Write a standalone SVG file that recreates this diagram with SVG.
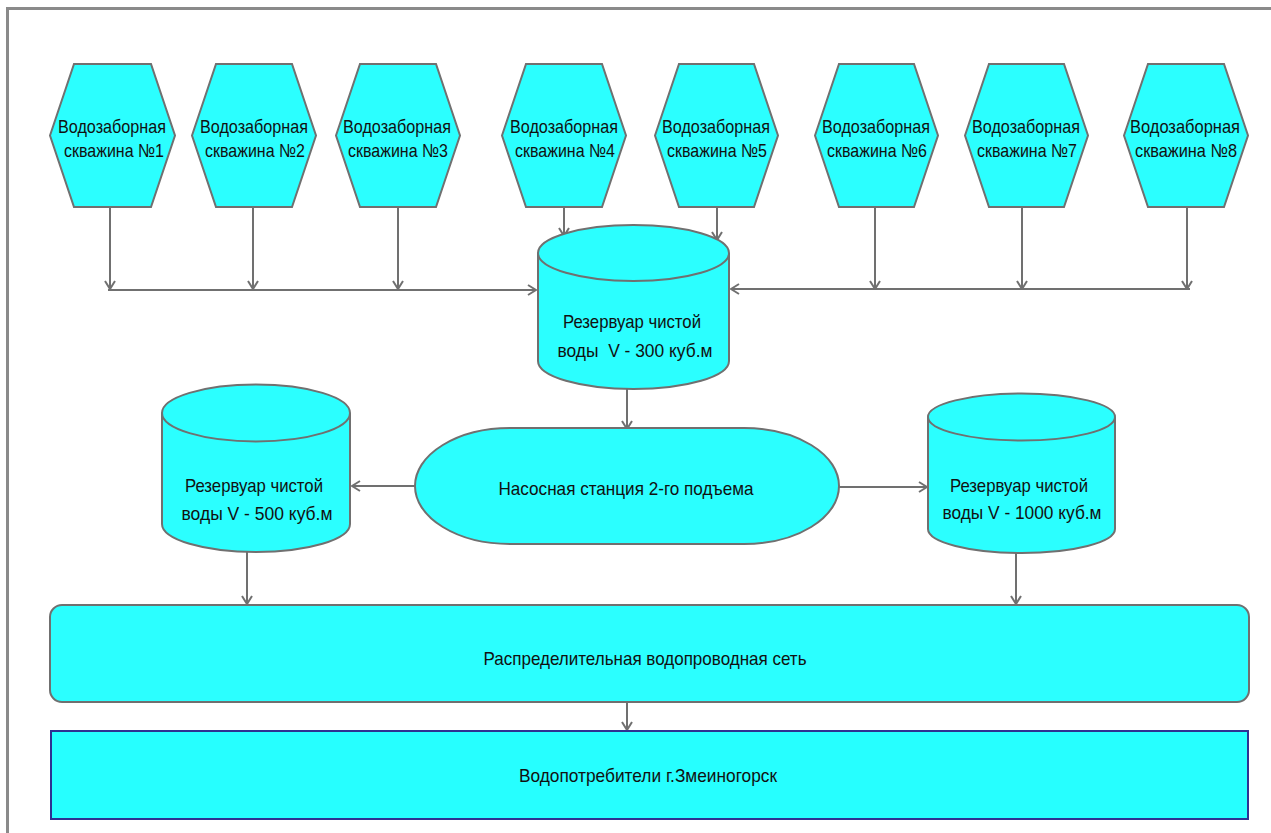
<svg xmlns="http://www.w3.org/2000/svg" width="1271" height="833" viewBox="0 0 1271 833">
<style>
.n{fill:#2bffff;stroke:#707070;stroke-width:2}
.b{fill:#26ffff;stroke:#2e3192;stroke-width:2}
.t{font-family:"Liberation Sans Narrow","Liberation Sans",Arial,sans-serif;font-size:19px;fill:#111;text-anchor:middle}
.c{fill:none;stroke:#707070;stroke-width:2}
.a{marker-end:url(#ar)}
</style>
<defs>
<marker id="ar" viewBox="0 0 10 12" markerWidth="10" markerHeight="12" refX="9" refY="6" orient="auto" markerUnits="userSpaceOnUse">
<path d="M1,1 L9,6 L1,11" fill="none" stroke="#707070" stroke-width="2"/>
</marker>
</defs>
<rect width="1271" height="833" fill="#fff"/>
<g id="frame">
<path d="M7.5,840 L7.5,8.5 L1280,8.5" fill="none" stroke="#8a8a8a" stroke-width="3"/>
</g>
<g id="connectors">
<path class="c a" d="M110,207 V289"/>
<path class="c a" d="M253,207 V289"/>
<path class="c a" d="M398,207 V289"/>
<path class="c a" d="M108,290 H536"/>
<path class="c a" d="M564,207 V236"/>
<path class="c a" d="M717,207 V240"/>
<path class="c a" d="M875,207 V289"/>
<path class="c a" d="M1022,207 V289"/>
<path class="c a" d="M1187,207 V289"/>
<path class="c a" d="M1190,289 H731"/>
<path class="c a" d="M627,389 V429"/>
<path class="c a" d="M415,486 H352"/>
<path class="c a" d="M839,487 H927"/>
<path class="c a" d="M247,552 V604"/>
<path class="c a" d="M1016,553 V604"/>
<path class="c a" d="M627,702 V730"/>
</g>
<g id="well1"><polygon class="n" points="50,135.5 74,64 151,64 175,135.5 151,207 74,207"/><text class="t" x="112" y="133" textLength="108" lengthAdjust="spacingAndGlyphs">Водозаборная</text><text class="t" x="114" y="157" textLength="100" lengthAdjust="spacingAndGlyphs">скважина №1</text></g>
<g id="well2"><polygon class="n" points="192,135.5 216,64 292,64 316,135.5 292,207 216,207"/><text class="t" x="254" y="133" textLength="108" lengthAdjust="spacingAndGlyphs">Водозаборная</text><text class="t" x="255" y="157" textLength="100" lengthAdjust="spacingAndGlyphs">скважина №2</text></g>
<g id="well3"><polygon class="n" points="336,135.5 360,64 436,64 460,135.5 436,207 360,207"/><text class="t" x="397" y="133" textLength="108" lengthAdjust="spacingAndGlyphs">Водозаборная</text><text class="t" x="398" y="157" textLength="100" lengthAdjust="spacingAndGlyphs">скважина №3</text></g>
<g id="well4"><polygon class="n" points="502,135.5 526,64 602,64 626,135.5 602,207 526,207"/><text class="t" x="564" y="133" textLength="108" lengthAdjust="spacingAndGlyphs">Водозаборная</text><text class="t" x="565" y="157" textLength="100" lengthAdjust="spacingAndGlyphs">скважина №4</text></g>
<g id="well5"><polygon class="n" points="655,135.5 679,64 754,64 778,135.5 754,207 679,207"/><text class="t" x="716" y="133" textLength="108" lengthAdjust="spacingAndGlyphs">Водозаборная</text><text class="t" x="717" y="157" textLength="100" lengthAdjust="spacingAndGlyphs">скважина №5</text></g>
<g id="well6"><polygon class="n" points="815,135.5 839,64 914,64 938,135.5 914,207 839,207"/><text class="t" x="876" y="133" textLength="108" lengthAdjust="spacingAndGlyphs">Водозаборная</text><text class="t" x="877" y="157" textLength="100" lengthAdjust="spacingAndGlyphs">скважина №6</text></g>
<g id="well7"><polygon class="n" points="965,135.5 989,64 1064,64 1088,135.5 1064,207 989,207"/><text class="t" x="1026" y="133" textLength="108" lengthAdjust="spacingAndGlyphs">Водозаборная</text><text class="t" x="1027" y="157" textLength="100" lengthAdjust="spacingAndGlyphs">скважина №7</text></g>
<g id="well8"><polygon class="n" points="1124,135.5 1148,64 1224,64 1248,135.5 1224,207 1148,207"/><text class="t" x="1185" y="133" textLength="110" lengthAdjust="spacingAndGlyphs">Водозаборная</text><text class="t" x="1186" y="157" textLength="102" lengthAdjust="spacingAndGlyphs">скважина №8</text></g>
<g id="tank300">
<path class="n" d="M538,253 A95.5,28 0 0 1 729,253 V361 A95.5,28 0 0 1 538,361 Z"/>
<path class="c" d="M538,253 A95.5,28 0 0 0 729,253"/>
<text class="t" x="632" y="328" textLength="138" lengthAdjust="spacingAndGlyphs">Резервуар чистой</text>
<text class="t" x="635" y="357" textLength="155" lengthAdjust="spacingAndGlyphs" xml:space="preserve">воды  V - 300 куб.м</text>
</g>
<g id="tank500">
<path class="n" d="M162,413 A94,28.5 0 0 1 350,413 V524 A94,28 0 0 1 162,524 Z"/>
<path class="c" d="M162,413 A94,28.5 0 0 0 350,413"/>
<text class="t" x="254" y="492" textLength="138" lengthAdjust="spacingAndGlyphs">Резервуар чистой</text>
<text class="t" x="257" y="520" textLength="151" lengthAdjust="spacingAndGlyphs">воды V - 500 куб.м</text>
</g>
<g id="tank1000">
<path class="n" d="M928,417 A93.5,23.5 0 0 1 1115,417 V529 A93.5,24 0 0 1 928,529 Z"/>
<path class="c" d="M928,417 A93.5,23.5 0 0 0 1115,417"/>
<text class="t" x="1019" y="492" textLength="138" lengthAdjust="spacingAndGlyphs">Резервуар чистой</text>
<text class="t" x="1022" y="519" textLength="159" lengthAdjust="spacingAndGlyphs">воды V - 1000 куб.м</text>
</g>
<g id="pump">
<path class="n" d="M510,428 H744 A95,58 0 0 1 744,544 H510 A95,58 0 0 1 510,428 Z"/>
<text class="t" x="626" y="495" textLength="255" lengthAdjust="spacingAndGlyphs">Насосная станция 2-го подъема</text>
</g>
<g id="network">
<rect class="n" x="50" y="605" width="1199" height="97" rx="12" fill="#26ffff"/>
<text class="t" x="645" y="665" textLength="323" lengthAdjust="spacingAndGlyphs">Распределительная водопроводная сеть</text>
</g>
<g id="consumers">
<rect class="b" x="51" y="731" width="1197" height="88"/>
<text class="t" x="648" y="782" textLength="258" lengthAdjust="spacingAndGlyphs">Водопотребители г.Змеиногорск</text>
</g>
</svg>
